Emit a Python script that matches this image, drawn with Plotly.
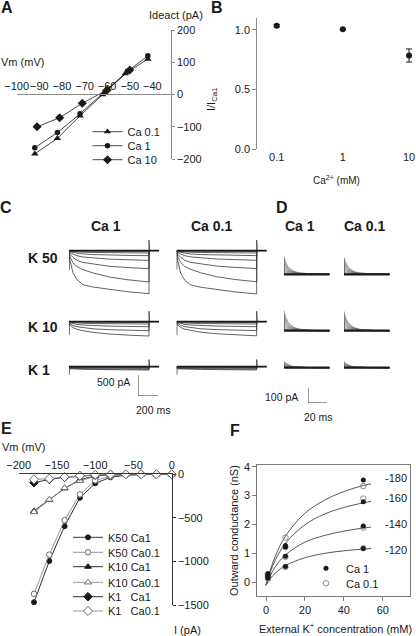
import plotly.graph_objects as go

W, H = 416, 636
FONT = "Liberation Sans, Arial, sans-serif"
INK = "#1a1a1a"
AXG = "#8a8a8a"

# ---------------- Panel A : deactivation I-V ----------------
a_vm_ca01 = [-92, -82, -72, -62, -52, -42]
a_i_ca01 = [-184, -136, -66, 0, 65, 110]
a_vm_ca1 = [-92, -82, -72, -61, -51, -42]
a_i_ca1 = [-165, -118, -60, 8, 72, 120]
a_vm_ca10 = [-91, -81, -71, -60, -50]
a_i_ca10 = [-100, -72, -27, 14, 76]
a_xticks = [-100, -90, -80, -70, -60, -50, -40]
a_yticks = [-200, -100, 0, 100, 200]

# ---------------- Panel B : relative current ----------------
b_ca = [0.1, 1, 10]
b_ratio = [1.035, 1.005, 0.785]
b_sem = [0.01, 0.0, 0.055]
b_xticks = [0.1, 1, 10]
b_xticklabels = ["0.1", "1", "10"]
b_yticks = [0.0, 0.5, 1.0]

# ---------------- Panel C : current traces (ms, pA) ----------------
c_t = [0, 1, 10, 40, 80, 140, 240, 400, 580, 800]
c_k50_ca1 = [
    [0, -130, -230, -530, -690, -810, -865, -925, -975, -1023],
    [0, -60, -140, -290, -380, -450, -530, -625, -690, -745],
    [0, -30, -80, -160, -230, -280, -320, -370, -400, -428],
    [0, -15, -40, -80, -120, -150, -175, -200, -215, -230],
    [0, -8, -20, -40, -60, -78, -92, -105, -112, -119],
    [0, -4, -10, -20, -28, -36, -42, -48, -52, -55],
    [0, -2, -4, -8, -12, -14, -16, -18, -19, -20],
]
c_k50_ca01 = [
    [0, -130, -235, -540, -700, -815, -870, -930, -980, -1030],
    [0, -60, -135, -285, -375, -445, -525, -620, -685, -740],
    [0, -30, -80, -158, -226, -278, -318, -366, -398, -425],
    [0, -15, -40, -80, -118, -148, -172, -198, -212, -228],
    [0, -8, -20, -40, -60, -78, -92, -104, -111, -118],
    [0, -4, -10, -20, -28, -36, -42, -48, -52, -55],
    [0, -2, -4, -8, -12, -14, -16, -18, -19, -20],
]
c_k10_ca1 = [
    [0, -40, -80, -140, -180, -215, -254, -293, -318, -341],
    [0, -20, -45, -90, -120, -145, -170, -190, -203, -214],
    [0, -10, -22, -48, -65, -80, -95, -105, -113, -119],
    [0, -5, -10, -22, -30, -37, -44, -49, -52, -55],
    [0, -2, -4, -8, -11, -14, -16, -18, -19, -20],
]
c_k10_ca01 = [
    [0, -40, -78, -138, -178, -212, -250, -288, -314, -336],
    [0, -20, -44, -88, -118, -143, -168, -188, -201, -212],
    [0, -10, -22, -47, -64, -79, -94, -104, -112, -118],
    [0, -5, -10, -22, -30, -37, -44, -49, -52, -55],
    [0, -2, -4, -8, -11, -14, -16, -18, -19, -20],
]
c_k1_ca1 = [
    [0, -45, -50, -55, -58, -62, -66, -70, -75, -80],
    [0, -35, -38, -42, -44, -47, -50, -53, -56, -60],
    [0, -22, -24, -27, -29, -31, -33, -35, -38, -40],
    [0, -12, -13, -14, -15, -16, -17, -18, -19, -20],
    [0, -4, -4, -5, -5, -6, -6, -7, -7, -8],
]
c_k1_ca01 = [
    [0, -45, -50, -54, -57, -61, -65, -69, -74, -78],
    [0, -35, -38, -41, -43, -46, -49, -52, -55, -58],
    [0, -22, -24, -27, -29, -31, -33, -35, -37, -39],
    [0, -12, -13, -14, -15, -16, -17, -18, -19, -20],
    [0, -4, -4, -5, -5, -6, -6, -7, -7, -8],
]
c_baseline_t = [0, 900]
c_baseline_i = [0, 0]
c_spike_t = [0, 0, 3]
c_start_spike = [-450, -320, -190]     # K50, K10, K1
c_tail_t = [800, 800, 806, 900]
c_end_spike = [250, 250, 170]          # K50, K10, K1
c_scale_ms = 200
c_scale_pa = 500

# ---------------- Panel D : tail currents (ms, pA) ----------------
d_t = [0, 0, 0.6, 2, 4, 7, 11, 16, 23, 32, 48]
d_shape = [0, 1.0, 0.88, 0.66, 0.46, 0.29, 0.16, 0.085, 0.035, 0.012, 0.0]
d_amp_k50_ca1 = [118, 104, 91, 78, 66, 54, 43, 33, 23, 14, 6]
d_amp_k50_ca01 = [115, 101, 88, 76, 64, 53, 42, 32, 22, 13, 6]
d_amp_k10_ca1 = [133, 117, 102, 88, 74, 61, 48, 36, 25, 15, 6]
d_amp_k10_ca01 = [128, 113, 99, 85, 72, 59, 47, 35, 24, 14, 6]
d_amp_k1_ca1 = [45, 39, 33, 28, 23, 18, 14, 10, 6, 3]
d_amp_k1_ca01 = [42, 37, 31, 26, 21, 17, 13, 9, 5, 2]
d_baseline_t = [0, 48]
d_baseline_i = [0, 0]
d_scale_ms = 20
d_scale_pa = 100

# ---------------- Panel E : steady-state I-V ----------------
e_vm = [-180, -160, -140, -120, -100, -80, -60, -40, -20, 0]
e_k50_ca1 = [-1465, -993, -594, -269, -103, -35, -10, -2, 0, 0]
e_k50_ca01 = [-1368, -920, -525, -230, -70, -25, -6, -1, 0, 0]
e_k10_ca1 = [-420, -295, -161, -62, -20, -5, 0, 0, 0, 0]
e_k10_ca01 = [-432, -290, -156, -74, -22, -6, 0, 0, 0, 0]
e_k1_ca1 = [-97, -58, -36, -20, -10, -4, 0, 0, 0, 0]
e_k1_ca01 = [-58, -50, -31, -16, -6, -2, 0, 0, 0, 0]
e_xticks = [-200, -150, -100, -50, 0]
e_yticks = [-1500, -1000, -500, 0]

# ---------------- Panel F : conductance vs external K+ ----------------
f_k = [1, 1, 1, 1, 10, 10, 10, 10, 50, 50, 50, 50]
f_g_ca1 = [0.30, 0.25, 0.20, 0.15, 1.27, 1.22, 0.90, 0.55, 3.54, 2.79, 1.95, 1.17]
f_g_ca01 = [0.28, 0.22, 0.18, 0.12, 1.55, 1.22, 0.88, 0.53, 3.33, 2.90, 1.89, 1.18]
f_fit_k = [0, 2, 5, 10, 20, 30, 40, 50, 54]
f_fit_m180 = [-0.1, 0.38, 0.94, 1.60, 2.39, 2.84, 3.14, 3.35, 3.41]
f_fit_m160 = [-0.1, 0.32, 0.80, 1.35, 1.99, 2.36, 2.59, 2.75, 2.80]
f_fit_m140 = [-0.1, 0.21, 0.56, 0.95, 1.39, 1.62, 1.77, 1.88, 1.91]
f_fit_m120 = [-0.1, 0.11, 0.33, 0.58, 0.85, 1.00, 1.09, 1.15, 1.17]
f_fit_labels = ["-180", "-160", "-140", "-120"]
f_xticks = [0, 20, 40, 60]
f_yticks = [0, 1, 2, 3, 4]


# ================= helpers =================
def xd(p0, p1):
    return [p0 / W, p1 / W]


def yd(p0, p1):
    return [1 - p1 / H, 1 - p0 / H]


def ann(text, x, y, size=11, bold=False, xanchor="center", angle=0):
    return dict(text=f"<b>{text}</b>" if bold else text, x=x / W, y=1 - y / H,
                xref="paper", yref="paper", showarrow=False, xanchor=xanchor,
                yanchor="middle", textangle=angle,
                font=dict(size=size, family=FONT, color=INK))


def hidden_axes(layout, n, xpx, ypx, base_py, ms_per_px, pa_per_px):
    layout[f"xaxis{n}"] = dict(domain=xd(*xpx), range=[0, (xpx[1] - xpx[0]) * ms_per_px],
                               visible=False, anchor=f"y{n}", fixedrange=True)
    layout[f"yaxis{n}"] = dict(domain=yd(*ypx),
                               range=[-(ypx[1] - base_py) * pa_per_px, (base_py - ypx[0]) * pa_per_px],
                               visible=False, anchor=f"x{n}", fixedrange=True)


fig = go.Figure()
layout = dict(width=W, height=H, margin=dict(l=0, r=0, t=0, b=0, autoexpand=False),
              paper_bgcolor="white", plot_bgcolor="white",
              font=dict(family=FONT, size=11, color=INK), showlegend=True)

# ================= Panel A =================
layout["xaxis"] = dict(domain=xd(16.7, 170.7), range=[-100, -31.9], anchor="free",
                       position=1 - 94.3 / H, side="top", showline=True, linecolor=AXG,
                       tickvals=a_xticks, ticks="", tickangle=0, showgrid=False,
                       zeroline=False, automargin=False)
layout["yaxis"] = dict(domain=yd(30, 159), range=[-200, 200], anchor="x", side="right",
                       showline=True, linecolor=AXG, tickvals=a_yticks, ticks="outside",
                       ticklen=3, tickcolor=AXG, showgrid=False, zeroline=False,
                       automargin=False)
a_series = [("Ca 0.1", a_vm_ca01, a_i_ca01, "triangle-up", 6.5, "legend"),
            ("Ca 1", a_vm_ca1, a_i_ca1, "circle", 5.5, "legend2"),
            ("Ca 10", a_vm_ca10, a_i_ca10, "diamond", 7, "legend3")]
for name, xv, yv, sym, sz, lg in a_series:
    fig.add_trace(go.Scatter(x=xv, y=yv, mode="lines+markers", name=name, xaxis="x", yaxis="y",
                             line=dict(color=INK, width=0.8),
                             marker=dict(symbol=sym, size=sz, color=INK),
                             cliponaxis=False, legend=lg))
a_leg_rows = [131.7, 145.7, 159.7]
for lg, row in zip(["legend", "legend2", "legend3"], a_leg_rows):
    layout[lg] = dict(x=(107.5 - 20) / W, y=1 - row / H, xanchor="left", yanchor="middle",
                      bgcolor="rgba(0,0,0,0)", borderwidth=0, itemwidth=30,
                      font=dict(size=11, family=FONT, color=INK))

# ================= Panel B =================
layout["xaxis2"] = dict(domain=xd(257.3, 414), type="log", range=[-1.293, 1.075], anchor="y2",
                        showline=False, tickvals=b_xticks, ticktext=b_xticklabels, ticks="",
                        tickangle=0, showgrid=False, zeroline=False, automargin=False)
layout["yaxis2"] = dict(domain=yd(18, 149), range=[0, 1.1], anchor="x2", showline=True,
                        linecolor=AXG, tickvals=b_yticks, tickformat=".1f", ticks="outside",
                        ticklen=4, tickcolor=AXG, showgrid=False, zeroline=False,
                        automargin=False)
fig.add_trace(go.Scatter(x=b_ca, y=b_ratio, mode="markers", xaxis="x2", yaxis="y2",
                         marker=dict(symbol="circle", size=6, color=INK),
                         error_y=dict(type="data", array=b_sem, color=INK, thickness=1, width=3),
                         showlegend=False, cliponaxis=False))

# ================= Panel C =================
C_MS = 10.0           # ms per px
C_PA = 500 / 21.0     # pA per px
c_cols = [(69, 160), (176.7, 267.7)]
c_rows = [((236, 300), 250.7), ((308, 342), 321.7), ((354, 378), 366.7)]
c_blocks = [[c_k50_ca1, c_k50_ca01], [c_k10_ca1, c_k10_ca01], [c_k1_ca1, c_k1_ca01]]
n = 3
for ri, (ypx, base) in enumerate(c_rows):
    for ci, xpx in enumerate(c_cols):
        hidden_axes(layout, n, xpx, ypx, base, C_MS, C_PA)
        xs, ys = [], []
        for tr in c_blocks[ri][ci]:
            xs += c_t + [c_t[-1], None]
            ys += tr + [0, None]
        xs += c_spike_t + [None] + c_tail_t
        ys += [0, c_start_spike[ri], 0, None, 0, c_end_spike[ri], 0, 0]
        fig.add_trace(go.Scatter(x=xs, y=ys, mode="lines", xaxis=f"x{n}", yaxis=f"y{n}",
                                 line=dict(color="#3a3a3a", width=0.8), showlegend=False,
                                 hoverinfo="skip"))
        fig.add_trace(go.Scatter(x=c_baseline_t, y=c_baseline_i, mode="lines",
                                 xaxis=f"x{n}", yaxis=f"y{n}",
                                 line=dict(color=INK, width=1.8), showlegend=False))
        n += 1
# scale bar C (n = 9)
layout["xaxis9"] = dict(domain=xd(138, 158), range=[0, c_scale_ms], visible=False, anchor="y9")
layout["yaxis9"] = dict(domain=yd(375, 396), range=[0, c_scale_pa], visible=False, anchor="x9")
fig.add_trace(go.Scatter(x=[0, 0, c_scale_ms], y=[c_scale_pa, 0, 0], mode="lines",
                         xaxis="x9", yaxis="y9", line=dict(color="#333", width=1),
                         showlegend=False, cliponaxis=False))

# ================= Panel D =================
D_MS = 20 / 19.0
D_PA = 100 / 15.0
d_cols = [(284, 330), (344, 390)]
d_rows = [((252, 280), 274.3), ((308, 336), 330.7), ((356, 373), 367.7)]
d_blocks = [[d_amp_k50_ca1, d_amp_k50_ca01], [d_amp_k10_ca1, d_amp_k10_ca01],
            [d_amp_k1_ca1, d_amp_k1_ca01]]
n = 10
for ri, (ypx, base) in enumerate(d_rows):
    for ci, xpx in enumerate(d_cols):
        hidden_axes(layout, n, xpx, ypx, base, D_MS, D_PA)
        xs, ys = [], []
        for amp in d_blocks[ri][ci]:
            xs += d_t + [None]
            ys += [amp * s for s in d_shape] + [None]
        fig.add_trace(go.Scatter(x=xs, y=ys, mode="lines", xaxis=f"x{n}", yaxis=f"y{n}",
                                 line=dict(color="#666", width=0.5), showlegend=False,
                                 hoverinfo="skip"))
        fig.add_trace(go.Scatter(x=d_baseline_t, y=d_baseline_i, mode="lines",
                                 xaxis=f"x{n}", yaxis=f"y{n}",
                                 line=dict(color=INK, width=2.2), showlegend=False))
        n += 1
# scale bar D (n = 16)
layout["xaxis16"] = dict(domain=xd(308, 327), range=[0, d_scale_ms], visible=False, anchor="y16")
layout["yaxis16"] = dict(domain=yd(388, 403), range=[0, d_scale_pa], visible=False, anchor="x16")
fig.add_trace(go.Scatter(x=[0, 0, d_scale_ms], y=[d_scale_pa, 0, 0], mode="lines",
                         xaxis="x16", yaxis="y16", line=dict(color="#333", width=1),
                         showlegend=False, cliponaxis=False))

# ================= Panel E =================
layout["xaxis17"] = dict(domain=xd(18.7, 171.7), range=[-200, 0], anchor="y17", side="top",
                         showline=True, linecolor="#333", tickvals=e_xticks, ticks="",
                         tickangle=0, showgrid=False, zeroline=False, automargin=False)
layout["yaxis17"] = dict(domain=yd(474.3, 605.3), range=[-1500, 0], anchor="x17", side="right",
                         showline=True, linecolor="#333", tickvals=e_yticks, ticks="outside",
                         ticklen=3, tickcolor="#333", showgrid=False, zeroline=False,
                         automargin=False)
OPEN_LINE = "#8a8a8a"
e_series = [
    ("K50 Ca1", e_k50_ca1, "circle", INK, INK, INK, 5),
    ("K50 Ca0.1", e_k50_ca01, "circle", "white", "#6a6a6a", OPEN_LINE, 5.5),
    ("K10 Ca1", e_k10_ca1, "triangle-up", INK, INK, INK, 6),
    ("K10 Ca0.1", e_k10_ca01, "triangle-up", "white", "#6a6a6a", OPEN_LINE, 6.5),
    ("K1   Ca1", e_k1_ca1, "diamond", INK, INK, INK, 6.5),
    ("K1   Ca0.1", e_k1_ca01, "diamond", "white", "#6a6a6a", OPEN_LINE, 7),
]
e_leg_rows = [537.3, 552.3, 566.7, 582.3, 596.7, 611.0]
for i, (name, yv, sym, fill, edge, lc, sz) in enumerate(e_series):
    lg = f"legend{4 + i}"
    fig.add_trace(go.Scatter(x=e_vm, y=yv, mode="lines+markers", name=name.replace(" ", "\u00a0"),
                             xaxis="x17", yaxis="y17", line=dict(color=lc, width=0.9),
                             marker=dict(symbol=sym, size=sz, color=fill,
                                         line=dict(color=edge, width=1)),
                             cliponaxis=False, legend=lg))
    layout[lg] = dict(x=(88 - 20) / W, y=1 - e_leg_rows[i] / H, xanchor="left", yanchor="middle",
                      bgcolor="rgba(0,0,0,0)", borderwidth=0, itemwidth=30,
                      font=dict(size=11, family=FONT, color=INK))

# ================= Panel F =================
FG = "#7a7a7a"
layout["xaxis18"] = dict(domain=xd(257.3, 410), range=[-4.47, 74.0], anchor="y18",
                         showline=True, mirror=True, linecolor=FG, tickvals=f_xticks,
                         ticks="outside", ticklen=4, tickcolor=FG, tickangle=0, showgrid=False,
                         zeroline=False, automargin=False)
layout["yaxis18"] = dict(domain=yd(465, 596), range=[-0.474, 4.06], anchor="x18",
                         showline=True, mirror=True, linecolor=FG, tickvals=f_yticks,
                         ticks="outside", ticklen=4, tickcolor=FG, showgrid=False,
                         zeroline=False, automargin=False)
for fit in [f_fit_m180, f_fit_m160, f_fit_m140, f_fit_m120]:
    fig.add_trace(go.Scatter(x=f_fit_k, y=fit, mode="lines", xaxis="x18", yaxis="y18",
                             line=dict(color="#444", width=0.9, shape="spline"),
                             showlegend=False))
fig.add_trace(go.Scatter(x=f_k, y=f_g_ca01, mode="markers", name="Ca 0.1", xaxis="x18",
                         yaxis="y18", marker=dict(symbol="circle-open", size=5.5, color="#8a8a8a",
                                                  line=dict(width=1)),
                         legend="legend11"))
fig.add_trace(go.Scatter(x=f_k, y=f_g_ca1, mode="markers", name="Ca 1", xaxis="x18",
                         yaxis="y18", marker=dict(symbol="circle", size=5, color=INK),
                         legend="legend10"))
for lg, row in [("legend10", 568.3), ("legend11", 583.3)]:
    layout[lg] = dict(x=(326 - 20) / W, y=1 - row / H, xanchor="left", yanchor="middle",
                      bgcolor="rgba(0,0,0,0)", borderwidth=0, itemwidth=30,
                      font=dict(size=11, family=FONT, color=INK))

# ================= Text =================
anns = [
    ann("A", 7.5, 8, 16, True), ann("B", 217, 8, 16, True), ann("C", 6, 208, 16, True),
    ann("D", 282, 208, 16, True), ann("E", 6, 428, 16, True), ann("F", 235, 430, 16, True),
    ann("Ideact (pA)", 176, 15), ann("Vm (mV)", 22, 62),
    ann("I/I<sub>Ca1</sub>", 212, 100, angle=-90),
    ann("Ca<sup>2+</sup> (mM)", 336, 180, 10),
    ann("Ca 1", 106, 225.5, 14, True), ann("Ca 0.1", 211, 225.5, 14, True),
    ann("K 50", 26, 258, 14, True, "left"), ann("K 10", 26, 327, 14, True, "left"),
    ann("K 1", 26, 370, 14, True, "left"),
    ann("Ca 1", 299.5, 225.5, 14, True), ann("Ca 0.1", 364.7, 225.5, 14, True),
    ann("500 pA", 132, 381.7, 10.5, False, "right"), ann("200 ms", 153, 410, 10.5),
    ann("100 pA", 300, 396.7, 10.5, False, "right"), ann("20 ms", 318, 416.7, 10.5),
    ann("Vm (mV)", 23, 447), ann("I (pA)", 187, 630),
    ann("External K<sup>+</sup> concentration (mM)", 335, 628),
    ann("Outward conductance (nS)", 233.3, 530.7, angle=-90),
]
for lab, row in zip(f_fit_labels, [478.3, 498.3, 524.3, 550.0]):
    anns.append(ann(lab, 383, row, 11, False, "left"))
layout["annotations"] = anns

fig.update_layout(**layout)
fig.write_html("out.html", config={"displayModeBar": False},
               post_script="document.body.style.margin='0px';document.body.style.overflow='hidden';")
